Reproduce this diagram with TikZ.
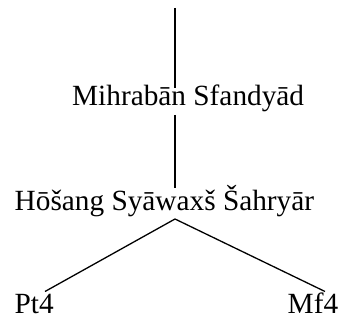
\documentclass[tikz,border=0pt]{standalone}
\usepackage{fontspec}
\setmainfont{Liberation Serif}
\begin{document}
\begin{tikzpicture}[x=1pt,y=-1pt,
  person/.style={inner sep=0pt,anchor=base west,font=\fontsize{29.3}{35}\selectfont},
  branch/.style={line width=1.3pt}]
\useasboundingbox (0,0) rectangle (340,320);

% names
\node[person] (mihraban) at (72,105.7) {Mihrabān Sfandyād};
\node[person] (hosang) at (14.5,210.7) {Hōšang Syāwaxš Šahryār};
\node[person] (pt) at (14.5,313.3) {Pt4};
\node[person] (mf) at (287.5,313.3) {Mf4};

% joints of the tree
\coordinate (root) at (175,8);
\coordinate (mihrabanTop) at (175,88);
\coordinate (mihrabanBot) at (175,115);
\coordinate (hosangTop) at (175,188);
\coordinate (hosangBot) at (175,219);
\coordinate (ptTop) at (45,291.5);
\coordinate (mfTop) at (325,291.5);

% connectors
\draw[branch] (root) -- (mihrabanTop);
\draw[branch] (mihrabanBot) -- (hosangTop);
\draw[branch] (ptTop) -- (hosangBot) -- (mfTop);
\end{tikzpicture}
\end{document}
